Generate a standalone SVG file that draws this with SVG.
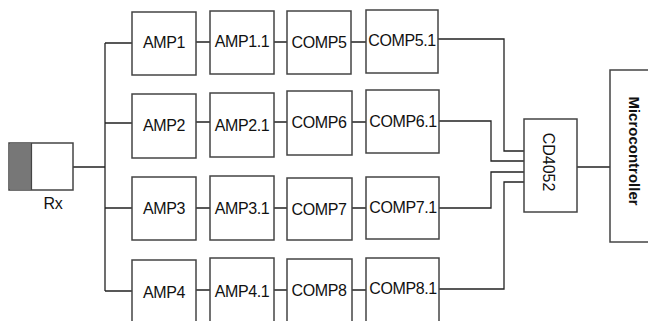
<svg xmlns="http://www.w3.org/2000/svg" width="648" height="321" viewBox="0 0 648 321">
<style>
.box{fill:#fff;stroke:#444;stroke-width:1.5}
.ln{fill:none;stroke:#222;stroke-width:1.3}
.t{font-family:"Liberation Sans",Arial,sans-serif;font-size:16px;letter-spacing:-0.4px;fill:#111;text-anchor:middle}
</style>
<rect width="648" height="321" fill="#fff"/>
<g id="connectors">
<path class="ln" d="M73,167H105M105,43V291M105,43H132M105,123H132M105,208H132M105,291H132"/>
<path class="ln" d="M196,42H210M274,42H287M351,42H366"/>
<path class="ln" d="M196,122H210M274,122H287M352,122H366"/>
<path class="ln" d="M196,208H210M274,208H287M352,208H366"/>
<path class="ln" d="M196,290H210M274,290H287M352,290H366"/>
<path class="ln" d="M438,39H504V151H524"/>
<path class="ln" d="M439,121H491V161H524"/>
<path class="ln" d="M439,208H491V172H524"/>
<path class="ln" d="M439,289H504V182H524"/>
<path class="ln" d="M577,167H610"/>
</g>
<g id="rx"><rect class="box" x="9" y="143" width="64" height="47"/><rect x="9.75" y="143.75" width="21.5" height="45.5" fill="#777"/><line x1="31.5" y1="143" x2="31.5" y2="190" stroke="#444" stroke-width="1.2"/><text class="t" x="53" y="209">Rx</text></g>
<g id="amp1"><rect class="box" x="132" y="12" width="64" height="63"/><text class="t" x="164" y="48">AMP1</text></g>
<g id="amp1_1"><rect class="box" x="210" y="11" width="64" height="63"/><text class="t" x="242" y="47">AMP1.1</text></g>
<g id="comp5"><rect class="box" x="287" y="11" width="64" height="63"/><text class="t" x="319" y="48">COMP5</text></g>
<g id="comp5_1"><rect class="box" x="366" y="10" width="72" height="63"/><text class="t" x="402" y="46">COMP5.1</text></g>
<g id="amp2"><rect class="box" x="132" y="94" width="64" height="64"/><text class="t" x="164" y="131">AMP2</text></g>
<g id="amp2_1"><rect class="box" x="210" y="93" width="64" height="64"/><text class="t" x="242" y="131">AMP2.1</text></g>
<g id="comp6"><rect class="box" x="287" y="91" width="65" height="64"/><text class="t" x="319" y="128">COMP6</text></g>
<g id="comp6_1"><rect class="box" x="366" y="90" width="73" height="63"/><text class="t" x="403" y="127">COMP6.1</text></g>
<g id="amp3"><rect class="box" x="132" y="177" width="64" height="63"/><text class="t" x="164" y="214">AMP3</text></g>
<g id="amp3_1"><rect class="box" x="210" y="176" width="64" height="64"/><text class="t" x="242" y="214">AMP3.1</text></g>
<g id="comp7"><rect class="box" x="287" y="178" width="65" height="62"/><text class="t" x="319" y="215">COMP7</text></g>
<g id="comp7_1"><rect class="box" x="366" y="177" width="73" height="62"/><text class="t" x="403" y="213">COMP7.1</text></g>
<g id="amp4"><rect class="box" x="132" y="260" width="64" height="70"/><text class="t" x="164" y="298">AMP4</text></g>
<g id="amp4_1"><rect class="box" x="210" y="258" width="64" height="72"/><text class="t" x="242" y="297">AMP4.1</text></g>
<g id="comp8"><rect class="box" x="287" y="259" width="65" height="71"/><text class="t" x="319" y="296">COMP8</text></g>
<g id="comp8_1"><rect class="box" x="366" y="258" width="73" height="72"/><text class="t" x="403" y="294">COMP8.1</text></g>
<g id="cd4052"><rect class="box" x="524" y="119" width="53" height="93"/><text class="t" transform="translate(543,162) rotate(90)" style="letter-spacing:0">CD4052</text></g>
<g id="microcontroller"><rect class="box" x="610" y="70" width="50" height="172"/><text class="t" transform="translate(629,151) rotate(90)" style="font-weight:bold;font-size:15px;letter-spacing:0">Microcontroller</text></g>
</svg>
